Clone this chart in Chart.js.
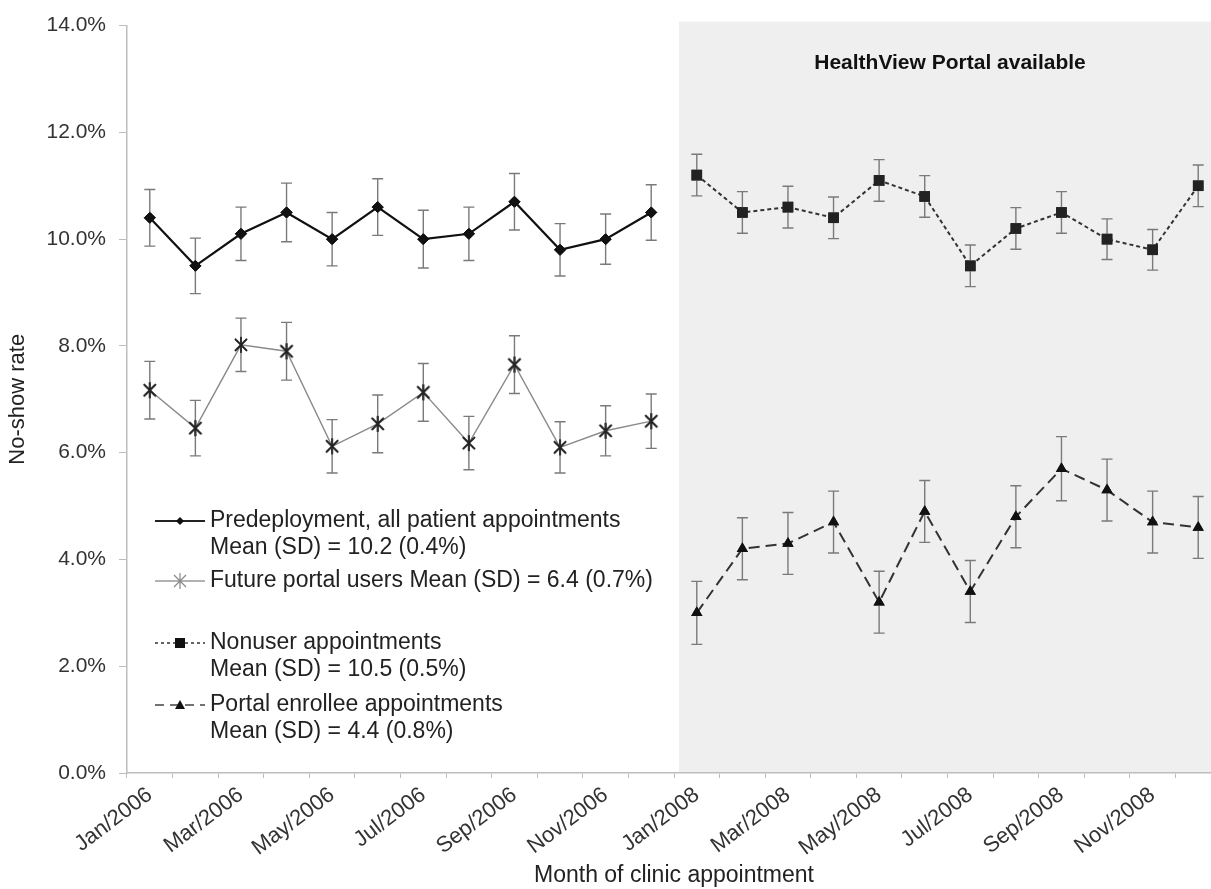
<!DOCTYPE html>
<html>
<head>
<meta charset="utf-8">
<script src="https://cdn.jsdelivr.net/npm/chart.js@4.4.0/dist/chart.umd.min.js"></script>
<style>
  html, body { margin: 0; padding: 0; background: #fff; overflow: hidden; }
  #wrap { width: 1240px; height: 889px; position: relative; }
</style>
</head>
<body>
<div id="wrap"><canvas id="myChart"></canvas></div>
<script>
'use strict';

// month categories (2006 then 2008, 24 in a row)
const months = [
    'Jan/2006', 'Feb/2006', 'Mar/2006', 'Apr/2006', 'May/2006', 'Jun/2006',
    'Jul/2006', 'Aug/2006', 'Sep/2006', 'Oct/2006', 'Nov/2006', 'Dec/2006',
    'Jan/2008', 'Feb/2008', 'Mar/2008', 'Apr/2008', 'May/2008', 'Jun/2008',
    'Jul/2008', 'Aug/2008', 'Sep/2008', 'Oct/2008', 'Nov/2008', 'Dec/2008'
];
const yTicks = [0, 2, 4, 6, 8, 10, 12, 14];

// no-show rate (%) and error bar half widths
const predeploy = [10.4, 9.5, 10.1, 10.5, 10.0, 10.6, 10.0, 10.1, 10.7, 9.8, 10.0, 10.5];
const predeployErr = [0.53, 0.52, 0.5, 0.55, 0.5, 0.53, 0.54, 0.5, 0.53, 0.49, 0.47, 0.52];
const futureUsers = [7.17, 6.46, 8.02, 7.9, 6.12, 6.54, 7.13, 6.18, 7.65, 6.1, 6.41, 6.59];
const futureUsersErr = [0.54, 0.52, 0.5, 0.54, 0.5, 0.54, 0.54, 0.5, 0.54, 0.48, 0.47, 0.51];
const nonuser = [11.2, 10.5, 10.6, 10.4, 11.1, 10.8, 9.5, 10.2, 10.5, 10.0, 9.8, 11.0];
const nonuserErr = [0.39, 0.39, 0.39, 0.39, 0.39, 0.39, 0.39, 0.39, 0.39, 0.38, 0.38, 0.39];
const enrollee = [3.0, 4.2, 4.3, 4.7, 3.2, 4.9, 3.4, 4.8, 5.7, 5.3, 4.7, 4.6];
const enrolleeErr = [0.59, 0.58, 0.58, 0.58, 0.58, 0.58, 0.58, 0.58, 0.6, 0.58, 0.58, 0.58];

const legendLines = [
    ['Predeployment, all patient appointments', 'Mean (SD) = 10.2 (0.4%)'],
    ['Future portal users Mean (SD) = 6.4 (0.7%)'],
    ['Nonuser appointments', 'Mean (SD) = 10.5 (0.5%)'],
    ['Portal enrollee appointments', 'Mean (SD) = 4.4 (0.8%)']
];
const portalTitle = 'HealthView Portal available';

const blank = new Array(12).fill(null);
const first = (arr) => arr.concat(blank);
const second = (arr) => blank.concat(arr);

// asterisk marker
function makeStar(color, w) {
    const c = document.createElement('canvas');
    c.width = 16; c.height = 18;
    const g = c.getContext('2d');
    g.strokeStyle = color;
    g.lineWidth = w;
    g.beginPath();
    g.moveTo(2, 3); g.lineTo(14, 15);
    g.moveTo(14, 3); g.lineTo(2, 15);
    g.moveTo(8, 1); g.lineTo(8, 17);
    g.stroke();
    return c;
}
const starMark = makeStar('#222', 1.6);

const FONT = '"Liberation Sans", Arial, sans-serif';

const shadePlugin = {
    id: 'shade',
    beforeDatasetsDraw(chart) {
        const { ctx, chartArea, scales } = chart;
        const x = scales.x;
        const left = (x.getPixelForValue(11) + x.getPixelForValue(12)) / 2 + 5;
        ctx.save();
        ctx.fillStyle = '#efefef';
        ctx.fillRect(left, chartArea.top - 4, chart.width - left, chartArea.bottom - chartArea.top + 3);
        ctx.fillStyle = '#111';
        ctx.font = 'bold 21px ' + FONT;
        ctx.textAlign = 'center';
        ctx.textBaseline = 'middle';
        ctx.fillText(portalTitle, (left + chartArea.right) / 2, chartArea.top + 38);
        ctx.restore();
    }
};

const errorBarPlugin = {
    id: 'errbars',
    afterDatasetsDraw(chart) {
        const { ctx, scales } = chart;
        ctx.save();
        ctx.strokeStyle = '#7a7a7a';
        ctx.lineWidth = 1.4;
        chart.data.datasets.forEach(ds => {
            ds.data.forEach((v, i) => {
                if (v === null) return;
                const e = ds.err[i];
                const x = scales.x.getPixelForValue(i);
                const y1 = scales.y.getPixelForValue(v + e);
                const y2 = scales.y.getPixelForValue(v - e);
                ctx.beginPath();
                ctx.moveTo(x, y1); ctx.lineTo(x, y2);
                ctx.moveTo(x - 5.5, y1); ctx.lineTo(x + 5.5, y1);
                ctx.moveTo(x - 5.5, y2); ctx.lineTo(x + 5.5, y2);
                ctx.stroke();
            });
        });
        ctx.restore();
        // redraw markers over the bars
        chart.data.datasets.forEach((ds, i) => {
            const meta = chart.getDatasetMeta(i);
            meta.data.forEach(pt => { if (!pt.skip) pt.draw(ctx, chart.chartArea); });
        });
    }
};

const legendPlugin = {
    id: 'customLegend',
    afterDraw(chart) {
        const ctx = chart.ctx;
        const items = [
            { y: 521, color: '#222', width: 2, dash: [], mark: 'diamond' },
            { y: 581, color: '#999', width: 1.5, dash: [], mark: 'star' },
            { y: 643, color: '#333', width: 1.5, dash: [3, 3], mark: 'square' },
            { y: 705, color: '#444', width: 1.5, dash: [9, 6], mark: 'triangle' }
        ];
        ctx.save();
        ctx.font = '23px ' + FONT;
        ctx.textBaseline = 'middle';
        ctx.fillStyle = '#222';
        items.forEach((it, k) => {
            ctx.strokeStyle = it.color;
            ctx.lineWidth = it.width;
            ctx.setLineDash(it.dash);
            ctx.beginPath();
            ctx.moveTo(155, it.y); ctx.lineTo(205, it.y);
            ctx.stroke();
            ctx.setLineDash([]);
            ctx.fillStyle = '#111';
            if (it.mark === 'diamond') {
                ctx.beginPath();
                ctx.moveTo(180, it.y - 4); ctx.lineTo(184, it.y); ctx.lineTo(180, it.y + 4); ctx.lineTo(176, it.y);
                ctx.fill();
            } else if (it.mark === 'star') {
                ctx.drawImage(makeStar('#888', 1.2), 172, it.y - 9);
            } else if (it.mark === 'square') {
                ctx.fillRect(175, it.y - 5, 10, 10);
            } else {
                ctx.beginPath();
                ctx.moveTo(180, it.y - 5); ctx.lineTo(185, it.y + 4); ctx.lineTo(175, it.y + 4);
                ctx.fill();
            }
            ctx.fillStyle = '#222';
            legendLines[k].forEach((t, j) => ctx.fillText(t, 210, it.y + j * 27));
        });
        ctx.restore();
    }
};

const ctx = document.getElementById('myChart').getContext('2d');
const myChart = new Chart(ctx, {
    type: 'line',
    data: {
        labels: months,
        datasets: [{
            label: 'Predeployment',
            data: first(predeploy),
            err: first(predeployErr),
            borderColor: '#111',
            borderWidth: 2.2,
            pointStyle: 'rectRot',
            pointRadius: 5.5,
            pointBackgroundColor: '#111',
            pointBorderColor: '#111',
            pointBorderWidth: 1
        }, {
            label: 'Future portal users',
            data: first(futureUsers),
            err: first(futureUsersErr),
            borderColor: '#8a8a8a',
            borderWidth: 1.4,
            pointStyle: starMark,
            pointRadius: 8
        }, {
            label: 'Nonuser appointments',
            data: second(nonuser),
            err: second(nonuserErr),
            borderColor: '#333',
            borderWidth: 2,
            borderDash: [4, 3],
            pointStyle: 'rect',
            pointRadius: 7.5,
            pointBackgroundColor: '#222',
            pointBorderColor: '#222',
            pointBorderWidth: 0
        }, {
            label: 'Portal enrollee appointments',
            data: second(enrollee),
            err: second(enrolleeErr),
            borderColor: '#333',
            borderWidth: 2,
            borderDash: [11, 6],
            pointStyle: 'triangle',
            pointRadius: 6.5,
            pointBackgroundColor: '#111',
            pointBorderColor: '#111',
            pointBorderWidth: 0
        }]
    },
    options: {
        responsive: true,
        maintainAspectRatio: false,
        animation: false,
        devicePixelRatio: 1,
        spanGaps: false,
        layout: { padding: { top: 25, right: 19, left: 0, bottom: 0 } },
        plugins: {
            legend: { display: false },
            tooltip: { enabled: false }
        },
        scales: {
            x: {
                type: 'category',
                offset: true,
                grid: {
                    offset: true,
                    drawOnChartArea: false,
                    drawTicks: true,
                    tickLength: 5,
                    color: '#bdbdbd'
                },
                border: { color: '#bdbdbd', width: 1.5 },
                ticks: {
                    autoSkip: false,
                    minRotation: 37,
                    maxRotation: 37,
                    padding: 4,
                    color: '#333',
                    font: { family: FONT, size: 22 },
                    callback: function (v, i) { return i % 2 === 0 ? months[i] : ''; }
                },
                title: {
                    display: true,
                    text: 'Month of clinic appointment',
                    color: '#222',
                    font: { family: FONT, size: 23 },
                    padding: { top: 0, bottom: 0 }
                },
                afterFit: function (s) { s.height = 116; }
            },
            y: {
                min: 0,
                max: 14,
                afterBuildTicks: function (s) { s.ticks = yTicks.map(v => ({ value: v })); },
                grid: {
                    drawOnChartArea: false,
                    drawTicks: true,
                    tickLength: 8,
                    color: '#bdbdbd'
                },
                border: { color: '#bdbdbd', width: 1.5 },
                ticks: {
                    padding: 13,
                    color: '#333',
                    font: { family: FONT, size: 21 },
                    callback: function (v) { return v.toFixed(1) + '%'; }
                },
                title: {
                    display: true,
                    text: 'No-show rate',
                    color: '#222',
                    font: { family: FONT, size: 22 },
                    padding: { top: 5, bottom: 0 }
                },
                afterFit: function (s) { s.width = 127; }
            }
        }
    },
    plugins: [shadePlugin, errorBarPlugin, legendPlugin]
});
</script>
</body>
</html>
